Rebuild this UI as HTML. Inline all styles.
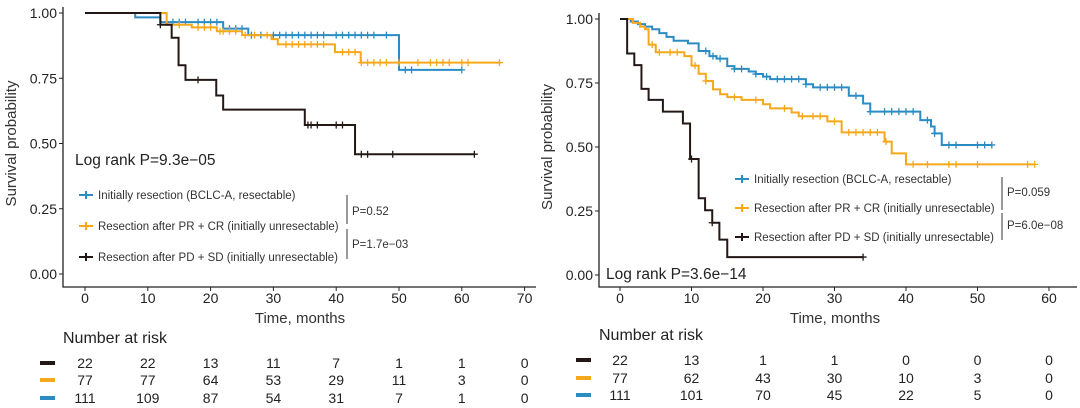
<!DOCTYPE html>
<html><head><meta charset="utf-8"><style>
body{margin:0;background:#fff;}
svg{display:block;font-family:"Liberation Sans",sans-serif;}
</style></head><body>
<svg id="s" width="1080" height="408" viewBox="0 0 1080 408"></svg>
<script>
// ---------- Data ----------
const colBlue="#2b8cc4", colOrange="#f5a81c", colBlack="#231815";
const leftBlueSteps=[[0,1],[8,0.983],[12,0.965],[22,0.94],[26,0.915],[50,0.782],[60,0.782]];
const leftBlueCens=[14,15,16,18,19,20,21,23,24,25,26.5,28,30,31,32,33,34,35,36,37,38,40,41,42,43,44,45,46,48,51,52,60];
const leftOrangeSteps=[[0,1],[13,0.955],[17,0.945],[21,0.93],[25,0.915],[29.7,0.9],[30.7,0.88],[39.8,0.85],[43.9,0.81],[66,0.81]];
const leftOrangeCens=[15,18,19,20,21.5,22,23,24,25.5,27,29,32,33,34,35,36,37,38,41,42,43,44,45,46,47,48,50,53,55,56,57,58,60,61,66];
const leftBlackSteps=[[0,1],[12,0.955],[13.8,0.905],[14.9,0.8],[16,0.744],[20.9,0.684],[22,0.63],[35,0.571],[43,0.459],[62,0.459]];
const leftBlackCens=[12,18,35.5,36,37,40,41,44,45,49,62];
const rightBlueSteps=[[0,1],[1.5,0.99],[2.5,0.98],[3.5,0.97],[4.5,0.96],[5.5,0.945],[6.5,0.93],[7.5,0.915],[9.5,0.905],[11,0.875],[12.5,0.855],[13.5,0.845],[15,0.816],[16,0.805],[18,0.795],[19,0.785],[20,0.775],[21,0.765],[26,0.745],[27,0.733],[32,0.7],[34,0.67],[35,0.638],[42,0.605],[43.5,0.58],[44,0.553],[45,0.508],[52,0.508]];
const rightBlueCens=[12,13,14,16,17,19,20.5,22,23,24,25,26,28,29,30,31,33,35,37,38,39,40,41,43,44,46,47,50,51,52];
const rightOrangeSteps=[[0,1],[1.8,0.985],[2.8,0.97],[3.5,0.96],[4.0,0.9],[5,0.87],[9,0.855],[10,0.818],[11,0.786],[12,0.758],[13,0.725],[14,0.706],[15,0.695],[17,0.684],[20,0.667],[21,0.651],[24,0.635],[25,0.62],[29,0.6],[31,0.557],[37,0.521],[38,0.475],[40,0.432],[58,0.432]];
const rightOrangeCens=[4.5,5.5,7,8,10.5,12,16,19,23,25.5,27,28,30,32,33,34,35,36,37.2,41,43,46,47,50,57,58];
const rightBlackSteps=[[0,1],[1,0.865],[2,0.82],[3,0.727],[4,0.684],[6,0.638],[8.8,0.592],[9.8,0.453],[11,0.3],[11.9,0.253],[12.9,0.204],[13.9,0.138],[15,0.07],[34,0.07]];
const rightBlackCens=[10,12.9,34];
const leftXTicks=[0,10,20,30,40,50,60,70];
const rightXTicks=[0,10,20,30,40,50,60];
const yTicks=[0,0.25,0.5,0.75,1];
const leftRiskBlack=[22,22,13,11,7,1,1,0];
const leftRiskOrange=[77,77,64,53,29,11,3,0];
const leftRiskBlue=[111,109,87,54,31,7,1,0];
const rightRiskBlack=[22,13,1,1,0,0,0];
const rightRiskOrange=[77,62,43,30,10,3,0];
const rightRiskBlue=[111,101,70,45,22,5,0];

// ---------- Drawing ----------
const S=document.getElementById('s'),NS="http://www.w3.org/2000/svg";
function mk(tag,attrs,parent){const e=document.createElementNS(NS,tag);for(const k in attrs)e.setAttribute(k,attrs[k]);(parent||S).appendChild(e);return e;}
function txt(str,attrs,parent){const e=mk('text',attrs,parent);e.textContent=str;return e;}

function panel(P){
  const g=mk('g',{});
  
  
  const X=t=>P.x0+t*P.px, Y=v=>P.y0-v*P.py;
  const ax=mk('path',{d:`M${P.axL},${Y(1)-6}V${P.axB}H${P.axR}`,fill:'none',stroke:'#222','stroke-width':1.3},g);
  
  
  yTicks.forEach(v=>{
    mk('line',{x1:P.axL-4,x2:P.axL,y1:Y(v),y2:Y(v),stroke:'#222'},g);
    const t=txt(v.toFixed(2),{x:P.axL-6,y:Y(v)+5,'text-anchor':'end','font-size':14,fill:'#222'},g);
    
    
  });
  P.xticks.forEach(v=>{
    mk('line',{x1:X(v),x2:X(v),y1:P.axB,y2:P.axB+4,stroke:'#222'},g);
    const t=txt(v,{x:X(v),y:P.axB+16,'text-anchor':'middle','font-size':14,fill:'#222'},g);
    
    
  });
  const yt=txt('Survival probability',{x:0,y:0,transform:`translate(${P.axL-47},${Y(0.5)}) rotate(-90)`,'text-anchor':'middle','font-size':15,fill:'#333'},g);
  
  
  const xt=txt('Time, months',{x:P.xtX,y:323,'text-anchor':'middle','font-size':15,fill:'#333'},g);
  
  
  P.series.forEach(s=>{
    let d=`M${X(s.steps[0][0])},${Y(s.steps[0][1])}`;
    for(let i=1;i<s.steps.length;i++){d+=`H${X(s.steps[i][0])}V${Y(s.steps[i][1])}`;}
    const p=mk('path',{d,fill:'none',stroke:s.c,'stroke-width':2},g);
    
    
    s.cens.forEach(t=>{
      let v=s.steps[0][1];for(const st of s.steps){if(st[0]<=t)v=st[1];}
      const c=mk('path',{d:`M${X(t)-3.5},${Y(v)}h7M${X(t)},${Y(v)-3.5}v7`,stroke:s.c,'stroke-width':1.3},g);
      
      
    });
  });
  const L=P.leg;
  P.series.forEach((s,i)=>{
    const y=L.ys[i];
    const ln=mk('path',{d:`M${L.x},${y}h14M${L.x+7},${y-4}v8`,stroke:s.c,'stroke-width':2},g);
    
    
    const t=txt(s.label,{x:L.x+19,y:y+4,'font-size':11.5,fill:'#333'},g);
    
    
  });
  mk('line',{x1:L.bx,x2:L.bx,y1:L.b1[0],y2:L.b1[1],stroke:'#333'},g);
  mk('line',{x1:L.bx,x2:L.bx,y1:L.b2[0],y2:L.b2[1],stroke:'#333'},g);
  const p1=txt(L.p1,{x:L.bx+5,y:L.p1y,'font-size':11.5,fill:'#333'},g);
  
  
  const p2=txt(L.p2,{x:L.bx+5,y:L.p2y,'font-size':11.5,fill:'#333'},g);
  
  
  const lr=txt(P.logrank,{x:P.lrX,y:P.lrY,'font-size':15.5,fill:'#222'},g);
  
  
  const nr=txt('Number at risk',{x:P.nrX,y:P.nrY,'font-size':16,fill:'#222'},g);
  
  
  P.risk.forEach((r,i)=>{
    const y=P.riskY[i];
    const sw=mk('rect',{x:P.swX,y:y-2,width:15,height:4,fill:r.c},g);
    
    
    r.v.forEach((v,j)=>{
      const t=txt(v,{x:X(P.xticks[j]),y:y+5,'text-anchor':'middle','font-size':14,fill:'#222'},g);
      
      
    });
  });
}

const lab=['Initially resection (BCLC-A, resectable)','Resection after PR + CR (initially unresectable)','Resection after PD + SD (initially unresectable)'];
panel({name:'left-km-panel',x0:85,px:6.28,y0:274,py:261,axL:63,axB:287,axR:536,xticks:leftXTicks,xtX:300,
  series:[{n:'blue',c:colBlue,steps:leftBlueSteps,cens:leftBlueCens,label:lab[0]},
          {n:'orange',c:colOrange,steps:leftOrangeSteps,cens:leftOrangeCens,label:lab[1]},
          {n:'black',c:colBlack,steps:leftBlackSteps,cens:leftBlackCens,label:lab[2]}],
  leg:{x:79,ys:[195,226,257],bx:347,b1:[195,224],b2:[229,259],p1:'P=0.52',p1y:215,p2:'P=1.7e\u221203',p2y:248},
  logrank:'Log rank P=9.3e\u221205',lrX:75,lrY:165,nrX:63,nrY:343,swX:40,riskY:[363,380,398],
  risk:[{c:colBlack,v:leftRiskBlack},{c:colOrange,v:leftRiskOrange},{c:colBlue,v:leftRiskBlue}]});
panel({name:'right-km-panel',x0:620,px:7.15,y0:275,py:256,axL:599,axB:287,axR:1077,xticks:rightXTicks,xtX:835,
  series:[{n:'blue',c:colBlue,steps:rightBlueSteps,cens:rightBlueCens,label:lab[0]},
          {n:'orange',c:colOrange,steps:rightOrangeSteps,cens:rightOrangeCens,label:lab[1]},
          {n:'black',c:colBlack,steps:rightBlackSteps,cens:rightBlackCens,label:lab[2]}],
  leg:{x:735,ys:[179,208,237],bx:1002,b1:[177,210],b2:[213,240],p1:'P=0.059',p1y:196,p2:'P=6.0e\u221208',p2y:229},
  logrank:'Log rank P=3.6e\u221214',lrX:606,lrY:279,nrX:599,nrY:340,swX:576,riskY:[360,378,395],
  risk:[{c:colBlack,v:rightRiskBlack},{c:colOrange,v:rightRiskOrange},{c:colBlue,v:rightRiskBlue}]});
</script>
</body></html>
